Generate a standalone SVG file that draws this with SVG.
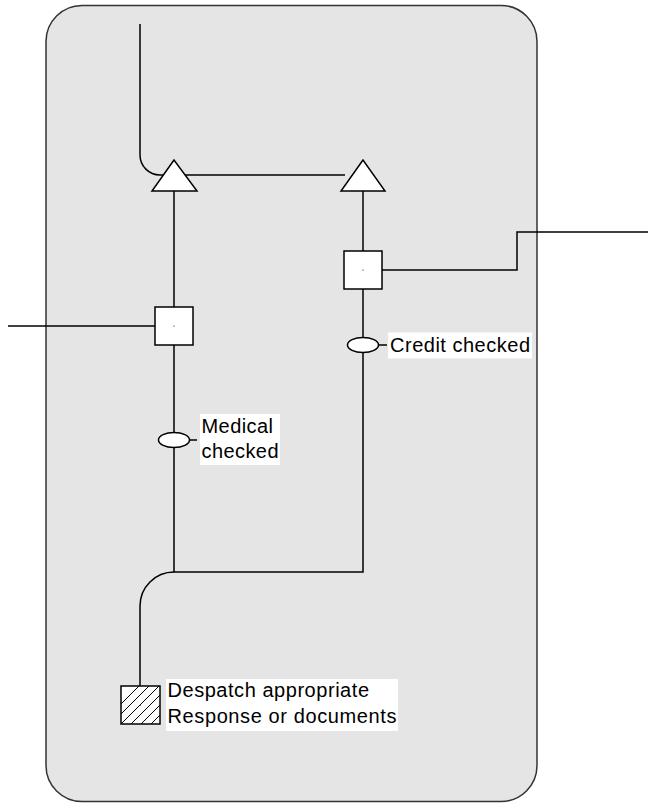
<svg xmlns="http://www.w3.org/2000/svg" width="648" height="803" viewBox="0 0 648 803">
<defs>
<style>
.ln{fill:none;stroke:#000;stroke-width:1.5}
.sh{fill:#fff;stroke:#000;stroke-width:1.5}
.lbl{font-family:"Liberation Sans",Arial,sans-serif;font-size:20px;fill:#000}
.bg{fill:#fff}
.dot{fill:#000}
</style>
<clipPath id="hc"><rect x="121" y="686" width="39" height="38"/></clipPath>
</defs>
<rect id="pool" x="46" y="5.5" width="491" height="796" rx="36" ry="36" fill="#e5e5e5" stroke="#333" stroke-width="1.5"/>
<g id="connectors">
<path class="ln" d="M140,24 V155 A20,20 0 0 0 160,175 H345"/>
<path class="ln" d="M174,191 V307"/>
<path class="ln" d="M8,326 H155"/>
<path class="ln" d="M174,345 V432"/>
<path class="ln" d="M174,448 V572 H363 V352"/>
<path class="ln" d="M363,191 V251"/>
<path class="ln" d="M363,289 V338"/>
<path class="ln" d="M382,270 H517 V232 H648"/>
<path class="ln" d="M174,572 A34,34 0 0 0 140,606 V686"/>
<path class="ln" d="M189,440 H197"/>
<path class="ln" d="M379,345 H387"/>
</g>
<g id="tri1"><polygon class="sh" points="174,160 152,191 197,191"/></g>
<g id="tri2"><polygon class="sh" points="363,160 341,191 385,191"/></g>
<g id="sq1"><rect class="sh" x="155" y="307" width="38" height="38"/><circle class="dot" cx="174" cy="326" r="0.6"/></g>
<g id="sq2"><rect class="sh" x="344" y="251" width="38" height="38"/><circle class="dot" cx="363" cy="270" r="0.6"/></g>
<g id="ev1">
<ellipse class="sh" cx="174" cy="440" rx="15.5" ry="7.5"/>
<rect class="bg" x="200" y="414" width="80" height="51"/>
<text class="lbl" x="201.5" y="433" textLength="71.5">Medical</text>
<text class="lbl" x="201.5" y="457.5" textLength="77">checked</text>
</g>
<g id="ev2">
<ellipse class="sh" cx="363" cy="345" rx="15.5" ry="7.5"/>
<rect class="bg" x="388" y="332.5" width="144" height="26"/>
<text class="lbl" x="390" y="351.5" textLength="140">Credit checked</text>
</g>
<g id="despatch">
<rect x="121" y="686" width="39" height="38" fill="#fff"/>
<g clip-path="url(#hc)" stroke="#000" stroke-width="1">
<path d="M111,724 L149,686 M121,724 L159,686 M131,724 L169,686 M141,724 L179,686 M151,724 L189,686 M101,724 L139,686"/>
</g>
<rect class="ln" x="121" y="686" width="39" height="38"/>
<circle class="dot" cx="140.5" cy="705" r="0.6"/>
<rect class="bg" x="166" y="679" width="232" height="52"/>
<text class="lbl" x="167.5" y="696.5" textLength="201.5">Despatch appropriate</text>
<text class="lbl" x="167.5" y="722.5" textLength="229">Response or documents</text>
</g>
</svg>
